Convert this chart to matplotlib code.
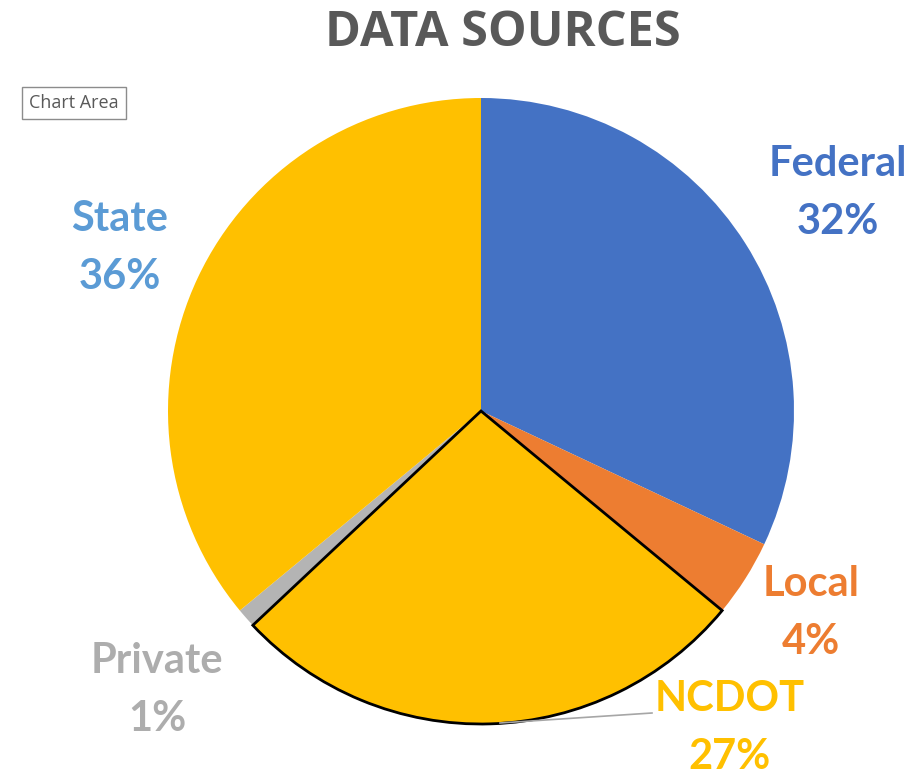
import matplotlib.pyplot as plt

# data
sources = ["Federal", "Local", "NCDOT", "Private", "State"]
shares = [32, 4, 27, 1, 36]
slice_colors = ["#4472C4", "#ED7D31", "#FFC000", "#B4B4B4", "#FFC000"]
label_colors = ["#4472C4", "#ED7D31", "#FFC000", "#ADADAD", "#5B9BD5"]
label_xy = [(838, 193), (811, 613), (730, 728), (157, 690), (120, 248)]

fig = plt.figure(figsize=(9.16, 7.79), dpi=100)
ax = fig.add_axes([0, 0, 1, 1])
ax.set_xlim(0, 916)
ax.set_ylim(779, 0)
ax.axis("off")

# pie drawn in its own axes so the inverted y of the label axes doesn't flip it
pax = fig.add_axes([0, 0, 1, 1])
wedges, _ = pax.pie(shares, colors=slice_colors, startangle=90, counterclock=False,
                    center=(481, 779 - 411), radius=313, frame=True)
pax.set_xlim(0, 916)
pax.set_ylim(0, 779)
pax.set_aspect("equal")
pax.axis("off")
wedges[2].set_edgecolor("black")
wedges[2].set_linewidth(2)
wedges[2].set_zorder(3)

# leader line for NCDOT
pax.plot([500, 652], [779 - 723, 779 - 713], color="#A6A6A6", lw=1.2, zorder=4)

for name, v, c, (x, y) in zip(sources, shares, label_colors, label_xy):
    ax.text(x, y, f"{name}\n{v}%", color=c, fontsize=30, fontweight="bold",
            family="Lato", ha="center", va="center", linespacing=1.65)

ax.text(503, 33, "DATA SOURCES", color="#595959", fontsize=35, fontweight="bold",
        family="Open Sans", ha="center", va="center")

ax.text(74, 103, "Chart Area", color="#595959", fontsize=13, family="Open Sans",
        ha="center", va="center",
        bbox=dict(boxstyle="square,pad=0.4", fc="white", ec="#8C8C8C", lw=1))

fig.savefig("out.png", dpi=100)
